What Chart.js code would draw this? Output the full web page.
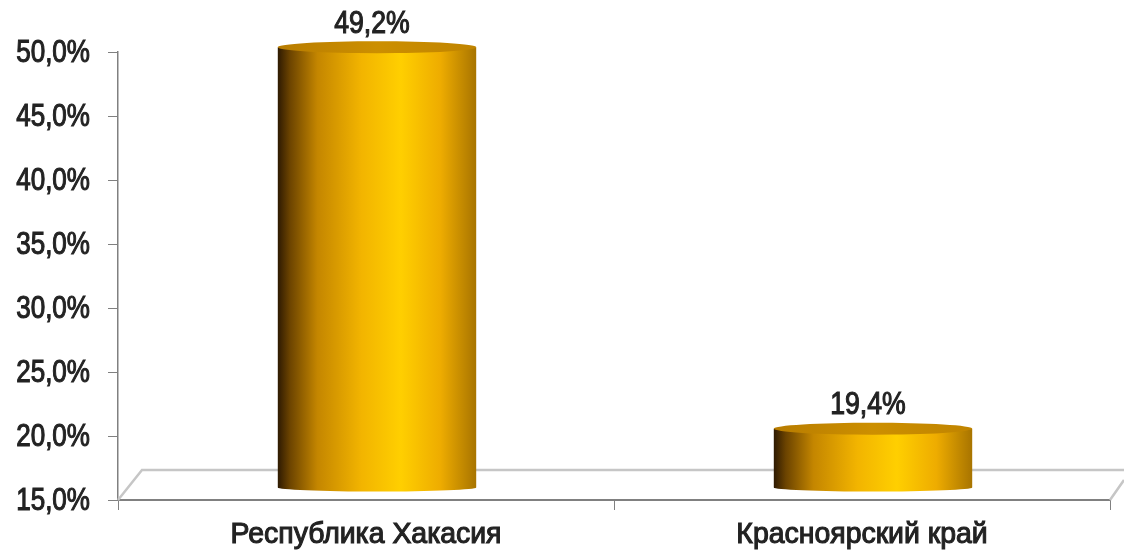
<!DOCTYPE html>
<html>
<head>
<meta charset="utf-8">
<style>
  html, body { margin: 0; padding: 0; background: #fff; }
  #wrap { width: 1124px; height: 551px; overflow: hidden; }
  #chart { filter: blur(0.6px); }
</style>
<script src="https://cdn.jsdelivr.net/npm/chart.js@4/dist/chart.umd.min.js"></script>
</head>
<body>
<div id="wrap"><canvas id="chart" width="1124" height="551"></canvas></div>
<script>
const categories = ['Республика Хакасия', 'Красноярский край'];
const shares = [49.2, 19.4];
const valueLabels = ['49,2%', '19,4%'];
const yTicks = [15, 20, 25, 30, 35, 40, 45, 50];

const FONT = '"Liberation Sans", Arial, sans-serif';
const TEXT = '#222222';
const AXIS = '#808080';
const FLOOR = '#c6c6c6';

// the original is a 3D chart: bars stand on a floor that sits behind the axis line
const DX = 11, DY = -15, BOTTOM_DY = -12, RY = 6;

// no narrow font installed, so squeeze the normal one sideways
function narrowText(ctx, text, x, y, size, squeeze, align) {
  ctx.save();
  ctx.translate(x, y);
  ctx.scale(squeeze, 1);
  ctx.font = size + 'px ' + FONT;
  ctx.textAlign = align;
  ctx.textBaseline = 'middle';
  ctx.fillStyle = TEXT;
  ctx.strokeStyle = TEXT;
  ctx.lineWidth = 1.1;
  ctx.strokeText(text, 0, 0);
  ctx.fillText(text, 0, 0);
  ctx.restore();
}

function sideGradient(ctx, left, right) {
  const g = ctx.createLinearGradient(left, 0, right, 0);
  g.addColorStop(0, '#2e1a02');
  g.addColorStop(0.06, '#6b4300');
  g.addColorStop(0.2, '#c48600');
  g.addColorStop(0.42, '#f2b400');
  g.addColorStop(0.62, '#ffcf00');
  g.addColorStop(0.82, '#eeac00');
  g.addColorStop(1, '#a87400');
  return g;
}

const floorPlugin = {
  id: 'floor',
  beforeDatasetsDraw(chart) {
    const { ctx, chartArea: a } = chart;
    const b = a.bottom;
    ctx.save();
    ctx.strokeStyle = FLOOR;
    ctx.lineWidth = 2.5;
    ctx.beginPath();
    ctx.moveTo(a.left, b);
    ctx.lineTo(a.left + 24, b - 30);
    ctx.lineTo(chart.width, b - 30);
    ctx.moveTo(a.right, b);
    ctx.lineTo(chart.width, b - 20);
    ctx.stroke();
    ctx.restore();
  }
};

const cylinderPlugin = {
  id: 'cylinder',
  afterDatasetsDraw(chart) {
    const { ctx } = chart;
    chart.getDatasetMeta(0).data.forEach((bar, i) => {
      const { x, y, base, width } = bar.getProps(['x', 'y', 'base', 'width'], true);
      const cx = x + DX, top = y + DY, bottom = base + BOTTOM_DY;
      const rx = width / 2, left = cx - rx, right = cx + rx;
      ctx.save();
      ctx.fillStyle = sideGradient(ctx, left, right);
      ctx.beginPath();
      ctx.moveTo(left, top);
      ctx.lineTo(left, bottom);
      ctx.ellipse(cx, bottom, rx, 4, 0, Math.PI, 0, true);
      ctx.lineTo(right, top);
      ctx.closePath();
      ctx.fill();
      const cap = ctx.createLinearGradient(left, 0, right, 0);
      cap.addColorStop(0, '#b87c00');
      cap.addColorStop(0.5, '#cc8f00');
      cap.addColorStop(1, '#c08400');
      ctx.fillStyle = cap;
      ctx.beginPath();
      ctx.ellipse(cx, top, rx, RY, 0, 0, Math.PI * 2);
      ctx.fill();
      ctx.restore();
      narrowText(ctx, valueLabels[i], cx - 5, top - 23, 31, 0.86, 'center');
    });
  }
};

// tick labels go through the scales, only the drawing is squeezed
const labelPlugin = {
  id: 'squeezedLabels',
  afterDraw(chart) {
    const { ctx, scales } = chart;
    scales.y.ticks.forEach((t, i) => {
      narrowText(ctx, t.label, 90, scales.y.getPixelForTick(i) + 1, 31, 0.84, 'right');
    });
    scales.x.ticks.forEach((t, i) => {
      narrowText(ctx, t.label, scales.x.getPixelForTick(i), 535, 29, 0.98, 'center');
    });
  }
};

new Chart(document.getElementById('chart'), {
  type: 'bar',
  data: {
    labels: categories,
    datasets: [{
      data: shares,
      base: yTicks[0],
      backgroundColor: 'rgba(0,0,0,0)',
      barPercentage: 0.4,
      categoryPercentage: 1
    }]
  },
  options: {
    responsive: false,
    animation: false,
    layout: { padding: { top: 52, right: 14, left: 0, bottom: 0 } },
    plugins: { legend: { display: false }, tooltip: { enabled: false } },
    scales: {
      x: {
        afterFit(s) { s.height = 51; },
        border: { color: AXIS, width: 2 },
        grid: { offset: true, drawOnChartArea: false, color: AXIS, tickLength: 10 },
        ticks: { color: 'rgba(0,0,0,0)', font: { family: FONT, size: 27 }, padding: 8, maxRotation: 0 }
      },
      y: {
        min: yTicks[0],
        max: yTicks[yTicks.length - 1],
        afterFit(s) { s.width = 118; },
        border: { color: AXIS, width: 1.5 },
        grid: { drawOnChartArea: false, color: AXIS, tickLength: 10 },
        afterBuildTicks(s) { s.ticks = yTicks.map(v => ({ value: v })); },
        ticks: {
          color: 'rgba(0,0,0,0)',
          font: { family: FONT, size: 27 },
          padding: 16,
          callback: v => v.toFixed(1).replace('.', ',') + '%'
        }
      }
    }
  },
  plugins: [floorPlugin, cylinderPlugin, labelPlugin]
});
</script>
</body>
</html>
